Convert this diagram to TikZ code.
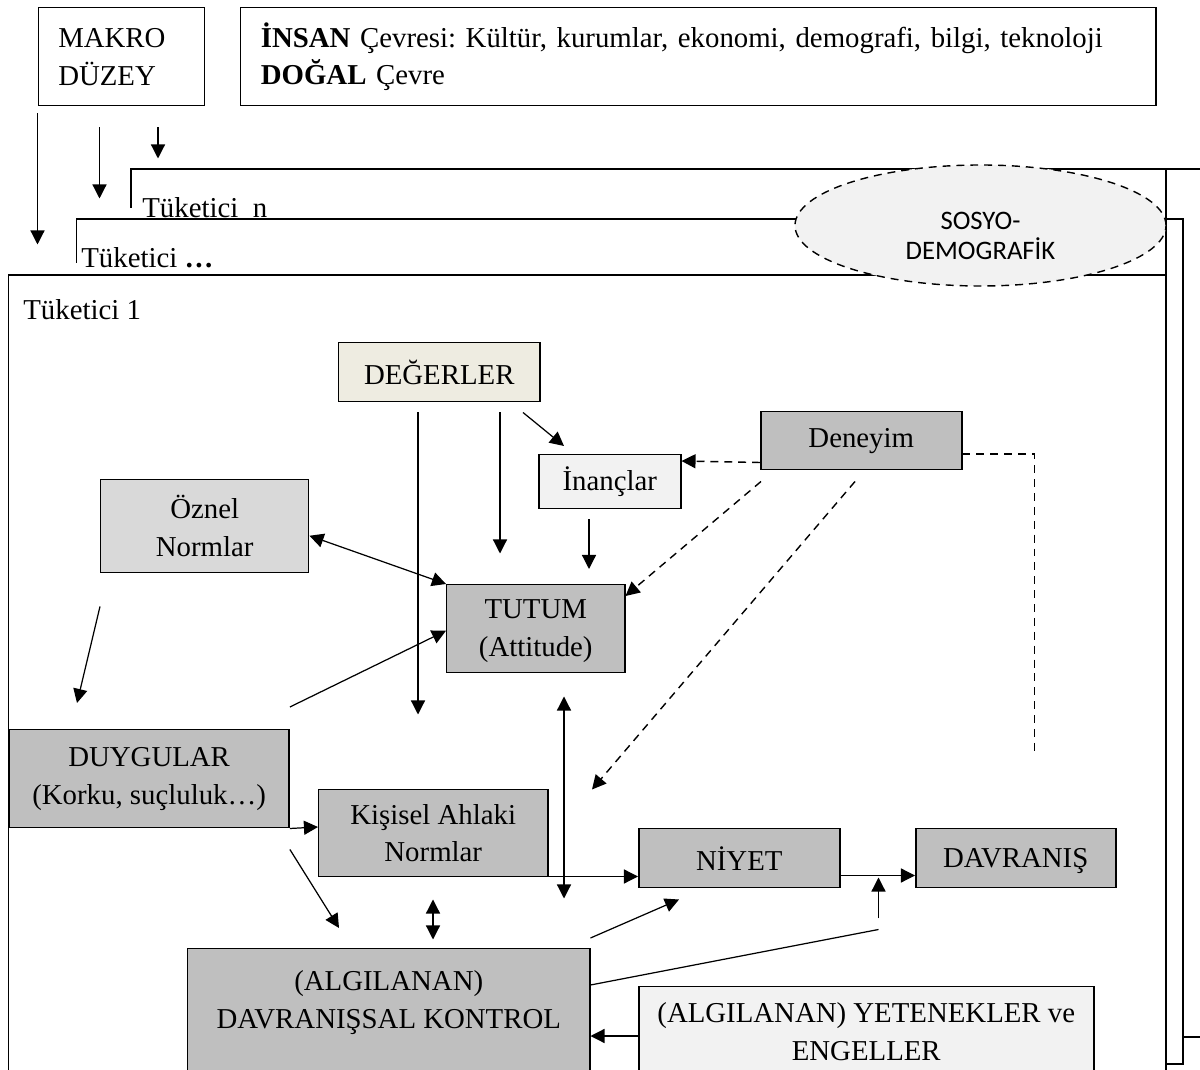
\documentclass[tikz,border=0pt]{standalone}
\usepackage{fontspec}
\setmainfont{Liberation Serif}
\setsansfont{Carlito}
\usetikzlibrary{arrows.meta,calc,shapes.geometric}
\definecolor{koyu}{HTML}{BFBFBF}
\definecolor{acik}{HTML}{F2F2F2}
\definecolor{orta}{HTML}{D9D9D9}
\definecolor{bej}{HTML}{EEECE1}
\frenchspacing
\tikzset{
  kutu/.style 2 args={draw, line width=0.85pt, anchor=north west, inner sep=0pt, align=center,
    minimum width=#1*0.02cm, minimum height=#2*0.02cm},
  ok/.style={line width=0.7pt, -{Triangle[length=8pt,width=8pt]}},
  ciftok/.style={line width=0.7pt, {Triangle[length=8pt,width=8pt]}-{Triangle[length=8pt,width=8pt]}},
  kesik/.style={line width=0.8pt, dash pattern=on 4.5pt off 3.4pt},
  cizgi/.style={line width=0.7pt},
  etiket/.style={anchor=base west, inner sep=0pt}
}
\begin{document}
\begin{tikzpicture}[x=0.02cm,y=-0.02cm,font=\fontsize{16.4pt}{21.5pt}\selectfont]
\useasboundingbox (0,0) rectangle (1200,1070);
\clip (0,0) rectangle (1200,1070);

\node[kutu={166}{98}, align=left, text width=2.52cm, inner xsep=0.4cm] (makro) at (37.5,7) {MAKRO\\DÜZEY};
\node[kutu={915}{98}, align=left, text width=17.5cm, inner xsep=0.4cm] (insan) at (240,7)
  {\textbf{İNSAN} Çevresi: Kültür, kurumlar, ekonomi, demografi, bilgi, teknoloji\\\textbf{DOĞAL} Çevre};

\draw[ok] ($(makro.south west)+(0,7)$) -- ++(0,131);
\draw[ok] ($(makro.south west)+(62,21)$) -- ++(0,71);
\draw[ok] ($(makro.south west)+(120.5,21)$) -- ++(0,31);

\draw[cizgi] (131,208) |- (1200,169);
\draw[cizgi] (1166,169) -- (1166,1070);
\draw[cizgi] (76.6,263) |- (1183,219) -- (1183,1064) -- (1166,1064);
\draw[cizgi] (1183,1037) -- (1200,1037);
\draw[cizgi] (8.4,1070) |- (1166,275);

\node[etiket] (tn) at (142,218) {Tüketici\ \ n};
\node[etiket] (tk) at (81,268) {Tüketici \textbf{…}};
\node[etiket] (t1) at (23,320) {Tüketici 1};

\node[ellipse, draw, kesik, fill=acik, minimum width=371*0.02cm, minimum height=121*0.02cm,
  inner sep=0pt] (sosyo) at (980.5,225.5) {};
\node[align=center, inner sep=0pt, font=\sffamily\fontsize{15.2pt}{17pt}\selectfont] (sosyoyazi)
  at ($(sosyo.center)+(0,10)$) {SOSYO-\\DEMOGRAFİK};

\node[kutu={201}{59}, fill=bej] (deger) at (338,342) {DEĞERLER};
\node[kutu={142}{54}, fill=acik] (inanc) at (538,454) {İnançlar};
\node[kutu={201}{58}, fill=koyu] (deney) at (760,411) {Deneyim};
\node[kutu={208}{93}, fill=orta] (oznel) at (100,479) {Öznel\\Normlar};
\node[kutu={178}{88}, fill=koyu] (tutum) at (446,584) {\\[-8pt]TUTUM\\(Attitude)};
\node[kutu={280}{98}, fill=koyu] (duygu) at (8.4,729) {DUYGULAR\\(Korku, suçluluk…)};
\node[kutu={229}{87}, fill=koyu] (kisi) at (318,789) {Kişisel Ahlaki\\Normlar};
\node[kutu={201}{59}, fill=koyu, text depth=0pt] (niyet) at (638,828) {NİYET};
\node[kutu={200}{59}, fill=koyu, text depth=0pt] (davr) at (915,828) {DAVRANIŞ};
\node[kutu={402}{140}, fill=koyu] (algi) at (187,948) {(ALGILANAN)\\DAVRANIŞSAL KONTROL\\\mbox{}};
\node[kutu={455}{90}, fill=acik] (yeten) at (638,986) {(ALGILANAN) YETENEKLER ve\\ENGELLER};

\draw[ok] ($(deger.south west)+(80,10)$) -- ++(0,302);
\draw[ok] ($(deger.south west)+(162,10)$) -- ++(0,141);
\draw[ok] ($(deger.south west)+(185,10)$) -- ($(inanc.north west)+(26,-8)$);
\draw[ok] ($(inanc.south west)+(51,10)$) -- ($(tutum.north west)+(143,-15)$);
\draw[ciftok] ($(oznel.east)+(0,9.5)$) -- (tutum.north west);
\draw[ok] ($(oznel.south west)+(0,33)$) -- ($(duygu.north west)+(68.6,-26)$);
\draw[ok] ($(duygu.north east)+(0,-22)$) -- ($(tutum.west)+(0,2)$);

\draw[kesik, -{Triangle[length=8pt,width=8pt]}] ($(deney.south west)+(0,-8)$) -- ($(inanc.north east)+(0,7)$);
\draw[kesik] ($(deney.north east)+(0,43)$) -- ++(72,0) -- ++(0,299);
\draw[kesik, -{Triangle[length=8pt,width=8pt]}] ($(deney.south west)+(1,11)$) -- ($(tutum.north east)+(0,12)$);
\draw[kesik, -{Triangle[length=8pt,width=8pt]}] ($(deney.south west)+(95,11)$) -- ++(-263,308);

\draw[ciftok] ($(tutum.south west)+(118,23)$) -- ++(0,202);
\draw[ok] (duygu.south east) -- ($(kisi.north west)+(0,38)$);
\draw[ok] ($(duygu.south east)+(0,21)$) -- ($(algi.north west)+(152,-20)$);
\draw[ciftok] ($(kisi.south west)+(115,22)$) -- ++(0,40);
\draw[ok] ($(kisi.south east)+(0,-1)$) -- ($(niyet.south west)+(0,-12)$);
\draw[ok] ($(algi.north east)+(0,-10)$) -- ($(niyet.south west)+(41,11)$);
\draw[cizgi] ($(algi.north east)+(0,37)$) -- ($(niyet.south east)+(38,41)$);
\draw[ok] ($(niyet.south east)+(38,30)$) -- ++(0,-41);
\draw[ok] ($(niyet.south east)+(0,-13)$) -- ($(davr.south west)+(0,-13)$);
\draw[ok] ($(yeten.north west)+(0,50)$) -- ($(algi.north east)+(0,88)$);
\end{tikzpicture}
\end{document}
